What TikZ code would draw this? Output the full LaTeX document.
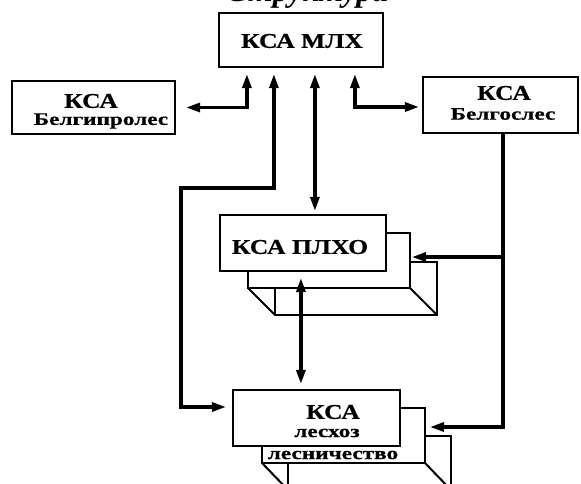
\documentclass[tikz,border=0pt]{standalone}
\usepackage{fontspec}
\setmainfont{Liberation Serif}
\newfontfamily\capf{Liberation Serif}[FakeStretch=1.22,FakeBold=0.6]
\newfontfamily\lowf{Liberation Serif}[FakeStretch=1.33,FakeBold=0.7]
\usetikzlibrary{arrows.meta,calc}
\tikzset{
  box/.style={draw, line width=2.2pt, inner sep=0pt, rectangle},
  captext/.style={inner sep=0pt, font=\capf\bfseries\fontsize{21}{21}\selectfont},
  lowtext/.style={inner sep=0pt, font=\lowf\bfseries\fontsize{17.5}{17.5}\selectfont},
  conn/.style={line width=3.2pt},
  stackline/.style={line width=2pt, line join=miter},
  >={Triangle[length=14pt,width=9pt]}
}
\begin{document}
\begin{tikzpicture}[x=1pt,y=-1pt]
\useasboundingbox (0,0) rectangle (581,484);
\fill[white] (0,0) rectangle (581,484);
\clip (0,0) rectangle (581,484);

% clipped title (only its lower part shows)
\node[anchor=base west, inner sep=0pt, font=\bfseries\itshape\fontsize{32}{32}\selectfont] (title) at (226,2) {Структура};

% boxes
\node[box, minimum width=164pt, minimum height=54pt] (mlh) at (301,40) {};
\node[captext] (mlht) at (302,41) {КСА МЛХ};

\node[box, minimum width=163pt, minimum height=53pt] (bgp) at (93.5,107.5) {};
\node[captext] (bgpt1) at (91,101) {КСА};
\node[lowtext] (bgpt2) at (101,121) {Белгипролес};

\node[box, minimum width=155pt, minimum height=56pt] (bgs) at (500.5,105) {};
\node[captext] (bgst1) at (504,93) {КСА};
\node[lowtext] (bgst2) at (503,114) {Белгослес};

% PLHO stack
\draw[stackline] (386,233) -- (410,233) -- (410,288) -- (248,288) -- (248,271);
\draw[stackline] (410,262) -- (437,262) -- (437,315) -- (275,315) -- (275,288);
\draw[stackline] (248,288) -- (275,315);
\draw[stackline] (410,288) -- (437,315);
\node[box, fill=white, minimum width=166pt, minimum height=56pt] (plho) at (303,243) {};
\node[captext] (plhot) at (300,247) {КСА ПЛХО};

% leshoz stack
\draw[stackline] (400,408) -- (425,408) -- (425,463) -- (262,463) -- (262,446);
\draw[stackline] (425,436) -- (451,436) -- (451,492) -- (288,492) -- (288,463);
\draw[stackline] (262,463) -- (288,490);
\draw[stackline] (425,463) -- (451,490);
\node[lowtext] (lesn) at (333,455) {лесничество};
\node[box, fill=white, minimum width=167pt, minimum height=56pt] (lhz) at (316.5,418) {};
\node[captext] (lhzt1) at (333,412) {КСА};
\node[lowtext] (lhzt2) at (327,433) {лесхоз};

% connectors
\coordinate (w1) at (181,188);
\coordinate (b1) at (503,257);
\coordinate (p1) at (412,257);
\coordinate (l1) at (430,427);

\draw[conn,<->] ($(bgp.east)+(10,0)$) -| ($(mlh.south west)+(29,6)$);
\draw[conn,<->] ($(mlh.south west)+(56,6)$) |- (w1) |- ($(lhz.west)+(-6,-11)$);
\draw[conn,<->] ($(mlh.south west)+(97,6)$) -- ($(plho.north west)+(96,-3)$);
\draw[conn,<->] ($(mlh.south west)+(137,6)$) |- ($(bgs.west)+(-3,2)$);
\draw[conn,->] ($(bgs.south)+(2.5,0)$) |- (l1);
\draw[conn,->] (b1) -- (p1);
\draw[conn,<->] ($(plho.south west)+(82,6)$) -- ($(lhz.north west)+(69,-5)$);
\end{tikzpicture}
\end{document}
